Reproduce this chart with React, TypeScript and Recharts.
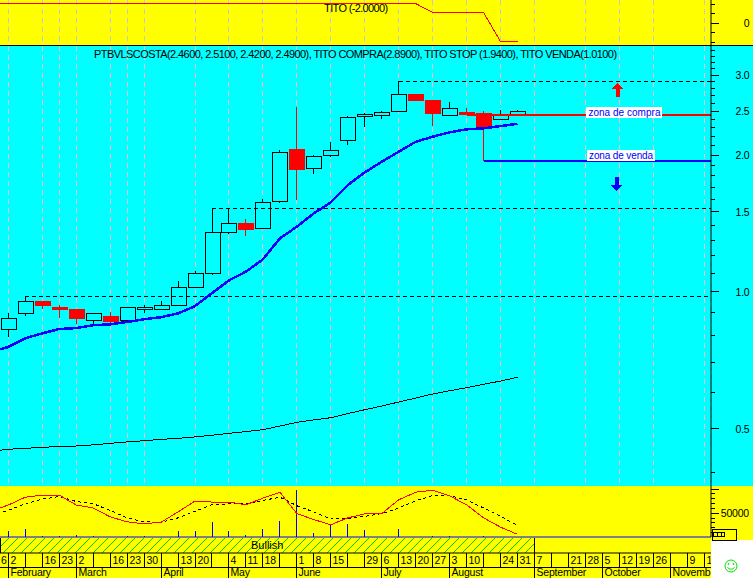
import React from "react";
import {
  ComposedChart, Line, Bar, XAxis, YAxis, CartesianGrid, ReferenceLine, ReferenceDot, ReferenceArea,
} from "recharts";

const FONT = '"Liberation Sans", Arial, sans-serif';
const xMin = -0.49;
const xMax = 41.4;

const open = [0.825, 0.894, 0.951, 0.923, 0.914, 0.863, 0.882, 0.863, 0.913, 0.913, 0.931, 1.02, 1.096, 1.349, 1.412, 1.376, 1.578, 2.058, 1.872, 1.993, 2.151, 2.436, 2.441, 2.491, 2.72, 2.638, 2.449, 2.479, 2.47, 2.392, 2.46];
const high = [0.894, 0.973, 0.951, 0.933, 0.914, 0.894, 0.899, 0.922, 0.933, 0.952, 1.054, 1.108, 1.523, 1.523, 1.443, 1.597, 2.047, 2.55, 1.996, 2.132, 2.433, 2.474, 2.495, 2.9, 2.72, 2.638, 2.616, 2.529, 2.495, 2.504, 2.51];
const low = [0.794, 0.884, 0.914, 0.875, 0.847, 0.843, 0.85, 0.857, 0.897, 0.913, 0.931, 1.02, 1.086, 1.337, 1.326, 1.376, 1.565, 1.589, 1.815, 1.979, 2.103, 2.304, 2.4, 2.491, 2.642, 2.312, 2.449, 2.461, 2.301, 2.392, 2.46];
const close = [0.872, 0.953, 0.933, 0.914, 0.875, 0.894, 0.86, 0.922, 0.922, 0.931, 1.02, 1.096, 1.349, 1.412, 1.374, 1.57, 2.023, 1.862, 1.983, 2.044, 2.417, 2.454, 2.479, 2.716, 2.642, 2.474, 2.529, 2.461, 2.301, 2.461, 2.5];
const blueAvg = [0.754, 0.788, 0.808, 0.826, 0.83, 0.842, 0.846, 0.856, 0.868, 0.877, 0.894, 0.928, 0.991, 1.057, 1.105, 1.176, 1.308, 1.388, 1.485, 1.57, 1.714, 1.828, 1.929, 2.03, 2.135, 2.19, 2.24, 2.274, 2.286, 2.312, 2.339];
const blackAvg = [0.449, 0.451, 0.4534, 0.455, 0.4564, 0.459, 0.4627, 0.466, 0.4688, 0.472, 0.4745, 0.478, 0.482, 0.4867, 0.491, 0.4957, 0.505, 0.5146, 0.521, 0.5268, 0.538, 0.5486, 0.559, 0.5704, 0.582, 0.5941, 0.604, 0.6133, 0.624, 0.6345, 0.6465];
const volume = [12200, 15700, 2000, 1500, 3500, 2500, 0, 3000, 3000, 0, 12200, 12200, 32000, 12200, 3500, 15700, 34000, 97300, 7500, 23900, 25900, 13700, 0, 15700, 0, 2000, 2000, 1000, 2000, 0, 0];
const oscRed = [62.7, 78.1, 82, 82, 62.7, 56.9, 39.5, 29.8, 25.9, 29, 49.1, 70.4, 68.5, 68.5, 63.2, 76.2, 87.8, 45.8, 34.2, 24, 37.5, 45.3, 45.8, 72.9, 87.8, 91.7, 80.6, 63.2, 37.5, 19.3, 5.2];
const oscBlack = [52.2, 65.2, 74.3, 79.3, 69.6, 65.2, 52.2, 37.5, 29.8, 29, 37.5, 50.3, 63.2, 65.2, 65.2, 71.6, 78.1, 61.3, 49.1, 35.6, 35.6, 40.6, 45.8, 56.9, 71, 81.2, 81.2, 72.9, 56.9, 40.6, 22.6];
const leadWeek = -1;
const leadBlue = 0.736;
const leadBlack = 0.444;
const leadRed = 51;
const leadOsc = 44;

const titoWeeks = [leadWeek, 24, 25, 28, 29, 30];
const titoValues = [2.05, 2.05, 1.1, 1.1, -2, -2];

const gridWeeks = [0, 2, 3, 4, 6, 7, 8, 10, 11, 13, 14, 15, 17, 18, 19, 21, 22, 23, 24, 25, 26, 27, 29, 30, 31, 33, 34, 35, 36, 37, 38, 40, 41];
const allWeeks = Array.from({ length: 42 }, (_, i) => i);
const bandValues = allWeeks.map(() => 0.5);
const dayLabels: Record<number, string> = { 0: "2", 2: "16", 3: "23", 4: "2", 6: "16", 7: "23", 8: "30", 10: "13", 11: "20", 13: "4", 14: "11", 15: "18", 17: "1", 18: "8", 19: "15", 21: "29", 22: "6", 23: "13", 24: "20", 25: "27", 26: "3", 27: "10", 29: "24", 30: "31", 31: "7", 33: "21", 34: "28", 35: "5", 36: "12", 37: "19", 38: "26", 40: "9", 41: "16" };
const monthLabels: Record<number, string> = { 0: "February", 4: "March", 9: "April", 13: "May", 17: "June", 22: "July", 26: "August", 31: "September", 35: "October", 39: "November" };

const mainTicks = [0.4, 0.5, 0.6, 0.7, 0.8, 0.9, 1, 1.1, 1.2, 1.3, 1.4, 1.5, 1.6, 1.7, 1.8, 1.9, 2, 2.1, 2.2, 2.3, 2.4, 2.5, 2.6, 2.7, 2.8, 2.9, 3, 3.1, 3.2, 3.3, 3.4];
const mainLabels = [0.5, 1, 1.5, 2, 2.5, 3];
const titoTicks = [-2, -1, 0, 1, 2];
const volTicks = [10000, 20000, 30000, 40000, 50000, 60000, 70000, 80000, 90000, 100000];

const compraLevel = 2.45;
const vendaLevel = 1.94;
const topLevel = 2.9;
const midLevel = 1.522;
const lowLevel = 0.9735;

const rows = open.map((o, i) => ({
  i, open: o, high: high[i], low: low[i], close: close[i], range: [low[i], high[i]],
  blue: blueAvg[i], black: blackAvg[i], volume: volume[i], red: oscRed[i], signal: oscBlack[i],
}));
const rowsLead = [{ i: leadWeek, blue: leadBlue, black: leadBlack, red: leadRed, signal: leadOsc } as any, ...rows];
const titoRows = titoWeeks.map((w, i) => ({ i: w, tito: titoValues[i] }));
const bandRows = allWeeks.map((w, i) => ({ i: w, band: bandValues[i] }));

const Candle = (p: any) => {
  const { x, y, width, height, payload } = p;
  if (!payload || payload.high == null || !isFinite(y) || !isFinite(height)) return null;
  const lh = Math.log(payload.high);
  const span = lh - Math.log(payload.low) || 1;
  const at = (v: number) => y + (height * (lh - Math.log(v))) / span;
  const up = payload.close >= payload.open;
  const colour = up ? "#000000" : "#ff0000";
  const top = Math.round(at(Math.max(payload.open, payload.close)));
  const bottom = Math.round(at(Math.min(payload.open, payload.close)));
  const cx = Math.floor(x + width / 2) + 0.5;
  const bx = Math.round(x) + 0.5;
  return (
    <g shapeRendering="crispEdges">
      <line x1={cx} x2={cx} y1={y} y2={y + height} stroke={colour} strokeWidth={1} />
      <rect x={bx} y={top + 0.5} width={Math.round(width)} height={Math.max(bottom - top, 1)}
        fill={up ? "#00ffff" : "#ff0000"} stroke={colour} strokeWidth={1} />
    </g>
  );
};

const axisTick = (labels: number[], fmt: (v: number) => string, anchorX: number) => (p: any) => {
  const { y, payload } = p;
  const major = labels.includes(payload.value);
  const ax = 711;
  return (
    <g shapeRendering="crispEdges">
      <line x1={ax} x2={ax + (major ? 8 : 4)} y1={Math.round(y) + 0.5} y2={Math.round(y) + 0.5} stroke="#000" />
      {major && (
        <text x={anchorX} y={y + 4.5} textAnchor="end" fontFamily={FONT} fontSize={10.5} letterSpacing={-0.2} fill="#000" shapeRendering="auto">
          {fmt(payload.value)}
        </text>
      )}
    </g>
  );
};

const DateTick = (p: any) => {
  const { x, y, payload } = p;
  const i = payload.value;
  const px = Math.floor(x) + 0.5;
  const rowY = y + 14;
  const month = monthLabels[i];
  const day = dayLabels[i];
  return (
    <g>
      <g shapeRendering="crispEdges">
        <line x1={px} x2={px} y1={y} y2={rowY} stroke="#000" />
        <line x1={i === 0 ? 0 : px} x2={px + 18} y1={rowY + 0.5} y2={rowY + 0.5} stroke="#000" />
        {month && <line x1={px} x2={px} y1={rowY} y2={y + 25} stroke="#000" />}
      </g>
      {i === 0 && <text x={1} y={y + 11} fontFamily={FONT} fontSize={10.5} fill="#000">6</text>}
      {day && <text x={px + 2} y={y + 11} fontFamily={FONT} fontSize={10.5} letterSpacing={-0.2} fill="#000">{day}</text>}
      {month && <text x={px + 2} y={y + 23} fontFamily={FONT} fontSize={10.5} letterSpacing={-0.2} fill="#000">{month}</text>}
    </g>
  );
};

const caption = (text: string, length: number, size = 11) => (p: any) => (
  <text x={p.cx} y={p.cy + 4} textAnchor="middle" fontFamily={FONT} fontSize={size} fill="#000"
    textLength={length} lengthAdjust="spacing">{text}</text>
);

const zoneTag = (text: string, w: number) => (p: any) => (
  <g>
    <rect x={p.cx - w / 2} y={p.cy - 5.5} width={w} height={11} fill="#ffffff" shapeRendering="crispEdges" />
    <text x={p.cx} y={p.cy + 3.5} textAnchor="middle" fontFamily={FONT} fontSize={10} fill="#0000ff"
      textLength={w - 4} lengthAdjust="spacing">{text}</text>
  </g>
);

const arrowUp = (p: any) => (
  <polygon fill="#ff0000" shapeRendering="crispEdges" points={`${p.cx},${p.cy - 7} ${p.cx + 6},${p.cy - 1} ${p.cx + 2.5},${p.cy - 1} ${p.cx + 2.5},${p.cy + 7} ${p.cx - 2},${p.cy + 7} ${p.cx - 2},${p.cy - 1} ${p.cx - 6},${p.cy - 1}`} />
);
const arrowDown = (p: any) => (
  <polygon fill="#0000ff" shapeRendering="crispEdges" points={`${p.cx},${p.cy + 7} ${p.cx + 6},${p.cy + 1} ${p.cx + 2.5},${p.cy + 1} ${p.cx + 2.5},${p.cy - 7} ${p.cx - 2},${p.cy - 7} ${p.cx - 2},${p.cy + 1} ${p.cx - 6},${p.cy + 1}`} />
);

const panel = (top: number, height: number, background: string): React.CSSProperties => ({
  position: "absolute", left: 0, top, width: 753, height, background, overflow: "hidden",
});

const W = 753;
const noMargin = { top: 0, right: 0, bottom: 0, left: 0 };

export default function App() {
  return (
    <div style={{ position: "absolute", left: 0, top: 0, width: 753, height: 578, overflow: "hidden", background: "#ffff00" }}>
      {/* indicator strip */}
      <div style={panel(0, 45, "#ffff00")}>
        <ComposedChart width={W} height={45} data={titoRows} margin={noMargin}>
          <CartesianGrid horizontal={false} verticalValues={gridWeeks} stroke="#c4c4dc" strokeDasharray="5 4" shapeRendering="crispEdges" />
          <XAxis dataKey="i" type="number" domain={[xMin, xMax]} allowDataOverflow hide />
          <YAxis orientation="right" width={42} domain={[-2.36, 2.43]} ticks={titoTicks} interval={0} allowDataOverflow
            axisLine={{ stroke: "#000" }} tickLine={false} tickSize={0} tick={axisTick([0], (v) => String(v), 749.5)} />
          <Line dataKey="tito" stroke="#ff0000" strokeWidth={1} dot={false} isAnimationActive={false} shapeRendering="crispEdges" />
          <ReferenceDot x={20.49} y={1.57} r={0} ifOverflow="visible" shape={caption("TITO (-2.0000)", 64)} />
        </ComposedChart>
      </div>
      <div style={{ position: "absolute", left: 0, top: 45, width: 753, height: 1, background: "#000" }} />

      {/* price panel */}
      <div style={panel(46, 440, "#00ffff")}>
        <ComposedChart width={W} height={440} data={rowsLead} margin={noMargin}>
          <CartesianGrid horizontal={false} verticalValues={gridWeeks} stroke="#f0b8c8" strokeDasharray="5 4" shapeRendering="crispEdges" />
          <XAxis dataKey="i" type="number" domain={[xMin, xMax]} allowDataOverflow hide />
          <YAxis orientation="right" width={42} scale="log" domain={[0.3726, 3.47]} ticks={mainTicks} interval={0} allowDataOverflow
            axisLine={{ stroke: "#000" }} tickLine={false} tickSize={0}
            tick={axisTick(mainLabels, (v) => v.toFixed(1), 749.5)} />
          <Line dataKey="black" stroke="#000000" strokeWidth={1} dot={false} isAnimationActive={false} connectNulls shapeRendering="crispEdges" />
          <ReferenceLine segment={[{ x: 23, y: topLevel }, { x: xMax, y: topLevel }]} stroke="#000" strokeDasharray="4 3" shapeRendering="crispEdges" />
          <ReferenceLine segment={[{ x: 12, y: midLevel }, { x: xMax, y: midLevel }]} stroke="#000" strokeDasharray="4 3" shapeRendering="crispEdges" />
          <ReferenceLine segment={[{ x: 1, y: lowLevel }, { x: xMax, y: lowLevel }]} stroke="#000" strokeDasharray="4 3" shapeRendering="crispEdges" />
          <ReferenceLine segment={[{ x: 28, y: compraLevel }, { x: 28, y: vendaLevel }]} stroke="#ff0000" shapeRendering="crispEdges" />
          <ReferenceLine segment={[{ x: 28, y: vendaLevel }, { x: xMax, y: vendaLevel }]} stroke="#0000ff" strokeWidth={2} shapeRendering="crispEdges" />
          <Bar dataKey="range" barSize={15} isAnimationActive={false} shape={Candle} />
          <ReferenceLine segment={[{ x: 27, y: compraLevel }, { x: xMax, y: compraLevel }]} stroke="#ff0000" strokeWidth={2} shapeRendering="crispEdges" />
          <Line dataKey="blue" stroke="#0000ff" strokeWidth={2.5} dot={false} isAnimationActive={false} connectNulls shapeRendering="crispEdges" />
          <ReferenceDot x={20.46} y={3.33} r={0} ifOverflow="visible" shape={caption("PTBVLSCOSTA(2.4600, 2.5100, 2.4200, 2.4900), TITO COMPRA(2.8900), TITO STOP (1.9400), TITO VENDA(1.0100)", 523)} />
          <ReferenceDot x={36.3} y={2.476} r={0} ifOverflow="visible" shape={zoneTag("zona de compra", 76)} />
          <ReferenceDot x={36.1} y={1.99} r={0} ifOverflow="visible" shape={zoneTag("zona de venda", 68)} />
          <ReferenceDot x={35.9} y={2.775} r={0} ifOverflow="visible" shape={arrowUp} />
          <ReferenceDot x={35.85} y={1.723} r={0} ifOverflow="visible" shape={arrowDown} />
        </ComposedChart>
      </div>

      {/* volume and oscillator */}
      <div style={panel(486, 52, "#ffff00")}>
        <ComposedChart width={W} height={52} data={rowsLead} margin={noMargin}>
          <CartesianGrid horizontal={false} verticalValues={gridWeeks} stroke="#c4c4dc" strokeDasharray="5 4" shapeRendering="crispEdges" />
          <XAxis dataKey="i" type="number" domain={[xMin, xMax]} allowDataOverflow height={1} tick={false} tickLine={false} axisLine={{ stroke: "#0000ff" }} />
          <YAxis yAxisId="vol" orientation="right" width={42} domain={[0, 105500]} ticks={volTicks} interval={0} allowDataOverflow
            axisLine={{ stroke: "#000" }} tickLine={false} tickSize={0} tick={axisTick([50000, 100000], (v) => (v === 50000 ? "50000" : ""), 749)} />
          <YAxis yAxisId="osc" hide domain={[0, 100]} allowDataOverflow />
          <Bar yAxisId="vol" dataKey="volume" barSize={1} fill="#0000ff" isAnimationActive={false} shapeRendering="crispEdges" />
          <Line yAxisId="osc" dataKey="signal" stroke="#000" strokeWidth={1} strokeDasharray="3 3" dot={false} isAnimationActive={false} shapeRendering="crispEdges" />
          <Line yAxisId="osc" dataKey="red" stroke="#ff0000" strokeWidth={1} dot={false} isAnimationActive={false} shapeRendering="crispEdges" />
        </ComposedChart>
      </div>

      {/* signal band and dates */}
      <div style={panel(538, 40, "#ffff00")}>
        <ComposedChart width={W} height={40} data={bandRows} margin={{ top: 0, right: 42, bottom: 0, left: 0 }}>
          <defs>
            <pattern id="hatch" width="9" height="9" patternUnits="userSpaceOnUse">
              <line x1="0" y1="9" x2="9" y2="0" stroke="#00d000" strokeWidth="1" />
            </pattern>
          </defs>
          <XAxis dataKey="i" type="number" domain={[xMin, xMax]} allowDataOverflow height={25} ticks={allWeeks} interval={0}
            axisLine={{ stroke: "#000" }} tickLine={false} tickSize={0} tickMargin={0} tick={DateTick} />
          <YAxis hide domain={[0, 1]} allowDataOverflow />
          <Line dataKey="band" stroke="none" dot={false} isAnimationActive={false} />
          <ReferenceArea x1={xMin} x2={31} y1={0} y2={1} fill="url(#hatch)" fillOpacity={1} stroke="none" ifOverflow="visible"
            label={{ value: "Bullish", position: "center", fontFamily: FONT, fontSize: 11, fill: "#000" }} />
          <ReferenceLine x={31} stroke="#000" ifOverflow="visible" shapeRendering="crispEdges" />
          <ReferenceLine x={xMin} stroke="#000" ifOverflow="visible" shapeRendering="crispEdges" />
        </ComposedChart>
      </div>

      {/* corner glyphs */}
      <svg width={42} height={49} style={{ position: "absolute", left: 711, top: 529 }}>
        <rect x={0} y={11} width={42} height={38} fill="#ffffff" />
        <g shapeRendering="crispEdges" fill="none" stroke="#000">
          <rect x={1.5} y={0.5} width={24} height={10.5} />
          <rect x={2.5} y={3.5} width={11} height={4} />
          <line x1={6.5} x2={6.5} y1={3} y2={8} />
          <line x1={10.5} x2={10.5} y1={3} y2={8} />
        </g>
        <g fill="none" stroke="#00e000" strokeWidth={1}>
          <circle cx={20} cy={37} r={6} />
          <circle cx={17.5} cy={35} r={0.6} />
          <circle cx={22.5} cy={35} r={0.6} />
          <path d="M16.5 38.5 Q20 42 23.5 38.5" />
        </g>
      </svg>
    </div>
  );
}
